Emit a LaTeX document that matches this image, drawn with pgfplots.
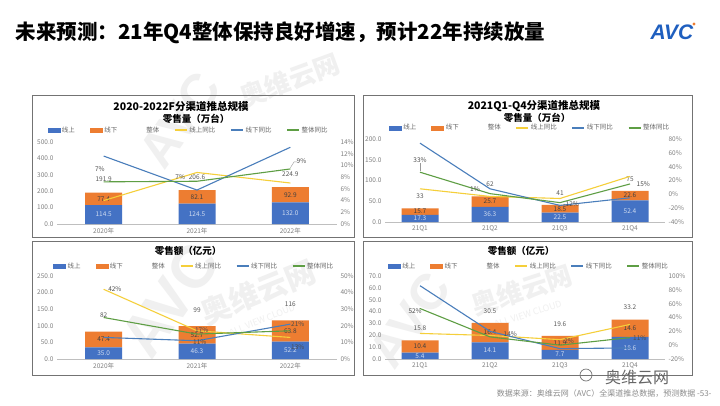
\documentclass[border=0pt]{standalone}
\usepackage{fontspec}
\setmainfont{Noto Sans CJK SC}
\newfontfamily\logofont{Liberation Sans}
\usepackage{pgfplots}
\pgfplotsset{compat=1.18}
\definecolor{cblue}{HTML}{4472C4}
\definecolor{corange}{HTML}{ED7D31}
\definecolor{lyellow}{HTML}{F5CF3A}
\definecolor{lblue}{HTML}{4A7EBB}
\definecolor{lgreen}{HTML}{5E9E44}
\definecolor{tgray}{HTML}{808080}
\definecolor{avcblue}{HTML}{1F5FBF}
\pgfplotsset{
 base/.style={scale only axis, anchor=south west, clip=false, major tick length=0pt,
   ticklabel style={font=\fontsize{6.5}{7}\selectfont, text=tgray},
   /pgf/number format/assume math mode=true},
 barax/.style={base, ybar stacked, axis x line*=bottom, axis y line*=left,
   x axis line style={draw=black!25, -}, y axis line style={draw=none},
   yticklabel style={/pgf/number format/fixed, /pgf/number format/fixed zerofill, /pgf/number format/precision=1}},
 labax/.style={base, hide axis},
 lineax/.style={base, axis x line=none, axis y line*=right, y axis line style={draw=none},
   yticklabel={\pgfmathprintnumber{\tick}\%},
   legend columns=6,
   legend image code/.code={\draw[##1] (0pt,0pt) -- (12pt,0pt);},
   legend style={draw=none, fill=none, font=\fontsize{6.5}{7}\selectfont, text=black!60, anchor=center,
     /tikz/every even column/.append style={column sep=13pt}}},
 inlab/.style={only marks, mark=none, nodes near coords, point meta=explicit symbolic,
   nodes near coords style={anchor=center, font=\fontsize{6.5}{7}\selectfont, text=#1}},
}
\tikzset{lab/.style={font=\fontsize{6.5}{7}\selectfont, text=black!70, inner sep=1pt},
  ln/.style={line width=1.1pt}}
\newcommand{\legimgs}{%
 \addlegendimage{legend image code/.code={\fill[cblue] (0pt,-2pt) rectangle (12pt,2pt);}}
 \addlegendimage{legend image code/.code={\fill[corange] (0pt,-2pt) rectangle (12pt,2pt);}}
 \addlegendimage{draw=none, legend image code/.code={\path[draw=none] (0pt,0pt) -- (12pt,0pt);}}}
\begin{document}
\begin{tikzpicture}
\useasboundingbox (0,0) rectangle (720pt,-405pt);
\fill[white] (0,0) rectangle (720pt,-405pt);
% watermarks
\begin{scope}[text=black!6]
\node[rotate=22, font=\bfseries\fontsize{30}{30}\selectfont] at (258pt,-292pt) {奥维云网};
\node[rotate=22, font=\fontsize{9}{9}\selectfont] at (262pt,-320pt) {ALL VIEW CLOUD};
\node[rotate=18, font=\bfseries\fontsize{26}{26}\selectfont] at (522pt,-290pt) {奥维云网};
\node[rotate=18, font=\fontsize{9}{9}\selectfont] at (528pt,-314pt) {ALL VIEW CLOUD};
\node[rotate=55, font=\logofont\bfseries\fontsize{60}{60}\selectfont] at (170pt,-300pt) {AVC};
\node[rotate=55, font=\logofont\bfseries\fontsize{50}{50}\selectfont] at (410pt,-320pt) {AVC};
\node[rotate=20, font=\bfseries\fontsize{26}{26}\selectfont] at (290pt,-80pt) {奥维云网};
\node[rotate=55, font=\logofont\bfseries\fontsize{50}{50}\selectfont] at (180pt,-120pt) {AVC};
\end{scope}
% title and logo
\node[anchor=west, font=\bfseries\fontsize{20.5}{21}\selectfont] at (12pt,-33pt) {未来预测：21年Q4整体保持良好增速，预计22年持续放量};
\node[font=\logofont\bfseries\itshape\fontsize{21}{21}\selectfont, text=avcblue] at (672pt,-32pt) {AVC};
\fill[corange] (694pt,-24pt) circle (1.6pt);
% frames
\draw[black!55, line width=0.8pt] (32pt,-95pt) rectangle (354pt,-237pt);
\draw[black!55, line width=0.8pt] (363pt,-95pt) rectangle (692pt,-237pt);
\draw[black!55, line width=0.8pt] (32pt,-241pt) rectangle (354pt,-375pt);
\draw[black!55, line width=0.8pt] (363pt,-241pt) rectangle (692pt,-375pt);
% panel titles
\node[font=\bfseries\fontsize{10.5}{11}\selectfont] at (181pt,-107pt) {2020-2022F分渠道推总规模};
\node[font=\bfseries\fontsize{9.5}{10}\selectfont] at (196pt,-119pt) {零售量（万台）};
\node[font=\bfseries\fontsize{10.5}{11}\selectfont] at (534pt,-106pt) {2021Q1-Q4分渠道推总规模};
\node[font=\bfseries\fontsize{9.5}{10}\selectfont] at (537pt,-118pt) {零售量（万台）};
\node[font=\bfseries\fontsize{9.5}{10}\selectfont] at (188pt,-251pt) {零售额（亿元）};
\node[font=\bfseries\fontsize{9.5}{10}\selectfont] at (521pt,-251pt) {零售额（亿元）};

%%%%% Panel 1
\begin{axis}[barax, at={(57pt,-224pt)}, width=280pt, height=82pt, xmin=-0.5, xmax=2.5, ymin=0, ymax=500,
  ytick={0,100,...,500}, xtick={0,1,2}, xticklabels={2020年,2021年,2022年}, bar width=37pt]
\addplot[fill=cblue, draw=none] coordinates {(0,114.5) (1,124.5) (2,132.0)};
\addplot[fill=corange, draw=none] coordinates {(0,77.4) (1,82.1) (2,92.9)};
\end{axis}
\begin{axis}[labax, at={(57pt,-224pt)}, width=280pt, height=82pt, xmin=-0.5, xmax=2.5, ymin=0, ymax=500]
\addplot[inlab=cblue!25] coordinates {(0,57.25)[114.5] (1,62.25)[124.5] (2,66.0)[132.0]};
\addplot[inlab=black!75] coordinates {(0,153.2)[77.4] (1,165.55)[82.1] (2,178.45)[92.9]};
\addplot[inlab=black!65, nodes near coords style={yshift=13pt}] coordinates {(0,191.9)[191.9] (1,206.6)[206.6] (2,224.9)[224.9]};
\end{axis}
\begin{axis}[lineax, at={(57pt,-224pt)}, width=280pt, height=82pt, xmin=-0.5, xmax=2.5, ymin=0, ymax=14,
  ytick={0,2,...,14}, legend style={at={(0.47,1.146)}}]
\legimgs
\addplot[lyellow, ln] coordinates {(0,4.0) (1,8.8) (2,7.0)};
\addplot[lblue, ln] coordinates {(0,11.6) (1,5.8) (2,13.1)};
\addplot[lgreen, ln] coordinates {(0,7.2) (1,7.3) (2,9.4)};
\legend{线上,线下,整体,线上同比,线下同比,整体同比}
\node[lab] at (axis cs:-0.04,9.4) {7\%};
\node[lab] at (axis cs:0.82,8.0) {7\%};
\node[lab] at (axis cs:2.12,10.75) {9\%};
\draw[black!40] (axis cs:2,9.6) -- (axis cs:2.04,10.6) -- (axis cs:2.07,10.6);
\end{axis}

%%%%% Panel 2
\begin{axis}[barax, at={(385pt,-222pt)}, width=280pt, height=83pt, xmin=-0.5, xmax=3.5, ymin=0, ymax=200,
  ytick={0,50,...,200}, xtick={0,1,2,3}, xticklabels={21Q1,21Q2,21Q3,21Q4}, bar width=37pt]
\addplot[fill=cblue, draw=none] coordinates {(0,17.3) (1,36.3) (2,22.5) (3,52.4)};
\addplot[fill=corange, draw=none] coordinates {(0,15.7) (1,25.7) (2,18.5) (3,22.6)};
\end{axis}
\begin{axis}[labax, at={(385pt,-222pt)}, width=280pt, height=83pt, xmin=-0.5, xmax=3.5, ymin=0, ymax=200]
\addplot[inlab=cblue!25] coordinates {(0,8.65)[17.3] (1,18.15)[36.3] (2,11.25)[22.5] (3,26.2)[52.4]};
\addplot[inlab=black!75] coordinates {(0,25.15)[15.7] (1,49.15)[25.7] (2,31.75)[18.5] (3,63.7)[22.6]};
\addplot[inlab=black!65, nodes near coords style={yshift=12pt}] coordinates {(0,33)[33] (1,62)[62] (2,41)[41] (3,75)[75]};
\end{axis}
\begin{axis}[lineax, at={(385pt,-222pt)}, width=280pt, height=83pt, xmin=-0.5, xmax=3.5, ymin=-40, ymax=80,
  ytick={-40,-20,...,80}, legend style={at={(0.518,1.133)}}]
\legimgs
\addplot[lyellow, ln] coordinates {(0,8) (1,-3) (2,-6) (3,26)};
\addplot[lblue, ln] coordinates {(0,74) (1,8) (2,-16) (3,-5)};
\addplot[lgreen, ln] coordinates {(0,32) (1,1) (2,-12) (3,15)};
\legend{线上,线下,整体,线上同比,线下同比,整体同比}
\node[lab] at (axis cs:0,49.7) {33\%};
\draw[black!40] (axis cs:0,34) -- (axis cs:0,45);
\node[lab] at (axis cs:0.786,7.7) {1\%};
\node[lab] at (axis cs:2.16,-14) {-12\%};
\node[lab] at (axis cs:3.19,15) {15\%};
\end{axis}

%%%%% Panel 3
\begin{axis}[barax, at={(57pt,-359pt)}, width=280pt, height=83pt, xmin=-0.5, xmax=2.5, ymin=0, ymax=250,
  ytick={0,50,...,250}, xtick={0,1,2}, xticklabels={2020年,2021年,2022年}, bar width=37pt]
\addplot[fill=cblue, draw=none] coordinates {(0,35.0) (1,46.3) (2,52.2)};
\addplot[fill=corange, draw=none] coordinates {(0,47.4) (1,52.7) (2,63.8)};
\end{axis}
\begin{axis}[labax, at={(57pt,-359pt)}, width=280pt, height=83pt, xmin=-0.5, xmax=2.5, ymin=0, ymax=250]
\addplot[inlab=cblue!25] coordinates {(0,17.5)[35.0] (1,23.15)[46.3] (2,26.1)[52.2]};
\addplot[inlab=black!75] coordinates {(0,58.7)[47.4] (1,72.65)[52.7] (2,84.1)[63.8]};
\addplot[inlab=black!65, nodes near coords style={yshift=16pt}] coordinates {(0,82.4)[82] (1,99)[99] (2,116)[116]};
\end{axis}
\begin{axis}[lineax, at={(57pt,-359pt)}, width=280pt, height=83pt, xmin=-0.5, xmax=2.5, ymin=0, ymax=50,
  ytick={0,10,...,50}, legend style={at={(0.49,1.12)}}]
\legimgs
\addplot[lyellow, ln] coordinates {(0,42) (1,17) (2,13)};
\addplot[lblue, ln] coordinates {(0,13) (1,11) (2,21)};
\addplot[lgreen, ln] coordinates {(0,25) (1,15) (2,17)};
\legend{线上,线下,整体,线上同比,线下同比,整体同比}
\node[lab] at (axis cs:0.12,42.2) {42\%};
\node[lab] at (axis cs:1.05,17.5) {17\%};
\node[lab] at (axis cs:1.03,10.2) {11\%};
\node[lab] at (axis cs:2.08,21) {21\%};
\node[lab] at (axis cs:2.08,7.2) {13\%};
\end{axis}

%%%%% Panel 4
\begin{axis}[barax, at={(385pt,-359pt)}, width=280pt, height=83pt, xmin=-0.5, xmax=3.5, ymin=0, ymax=70,
  ytick={0,10,...,70}, xtick={0,1,2,3}, xticklabels={21Q1,21Q2,21Q3,21Q4}, bar width=37pt]
\addplot[fill=cblue, draw=none] coordinates {(0,5.4) (1,14.1) (2,7.7) (3,18.6)};
\addplot[fill=corange, draw=none] coordinates {(0,10.4) (1,16.4) (2,11.9) (3,14.6)};
\end{axis}
\begin{axis}[labax, at={(385pt,-359pt)}, width=280pt, height=83pt, xmin=-0.5, xmax=3.5, ymin=0, ymax=70]
\addplot[inlab=cblue!25] coordinates {(0,2.7)[5.4] (1,7.05)[14.1] (2,3.85)[7.7] (3,9.3)[18.6]};
\addplot[inlab=black!75] coordinates {(0,10.6)[10.4] (1,22.3)[16.4] (2,13.65)[11.9] (3,25.9)[14.6]};
\addplot[inlab=black!65, nodes near coords style={yshift=12pt}] coordinates {(0,15.8)[15.8] (1,30.5)[30.5] (2,19.6)[19.6] (3,33.2)[33.2]};
\end{axis}
\begin{axis}[lineax, at={(385pt,-359pt)}, width=280pt, height=83pt, xmin=-0.5, xmax=3.5, ymin=-20, ymax=100,
  ytick={-20,0,...,100}, legend style={at={(0.514,1.12)}}]
\legimgs
\addplot[lyellow, ln] coordinates {(0,17) (1,14) (2,8) (3,30)};
\addplot[lblue, ln] coordinates {(0,86) (1,20) (2,-5) (3,-4)};
\addplot[lgreen, ln] coordinates {(0,53) (1,12) (2,0) (3,11)};
\legend{线上,线下,整体,线上同比,线下同比,整体同比}
\node[lab] at (axis cs:-0.07,48.6) {52\%};
\node[lab] at (axis cs:1.29,15.7) {14\%};
\node[lab] at (axis cs:2.13,5.7) {2\%};
\node[lab] at (axis cs:3.14,10) {11\%};
\end{axis}

% bottom-right marks
\draw[black!55, line width=0.7pt] (586pt,-375pt) circle (6pt);
\node[text=black!60, font=\fontsize{16}{16}\selectfont] at (637pt,-377pt) {奥维云网};
\node[anchor=east, text=black!45, font=\fontsize{8}{8}\selectfont] at (715pt,-393pt) {数据来源：奥维云网（AVC）全渠道推总数据，预测数据 -53-};
\end{tikzpicture}
\end{document}
